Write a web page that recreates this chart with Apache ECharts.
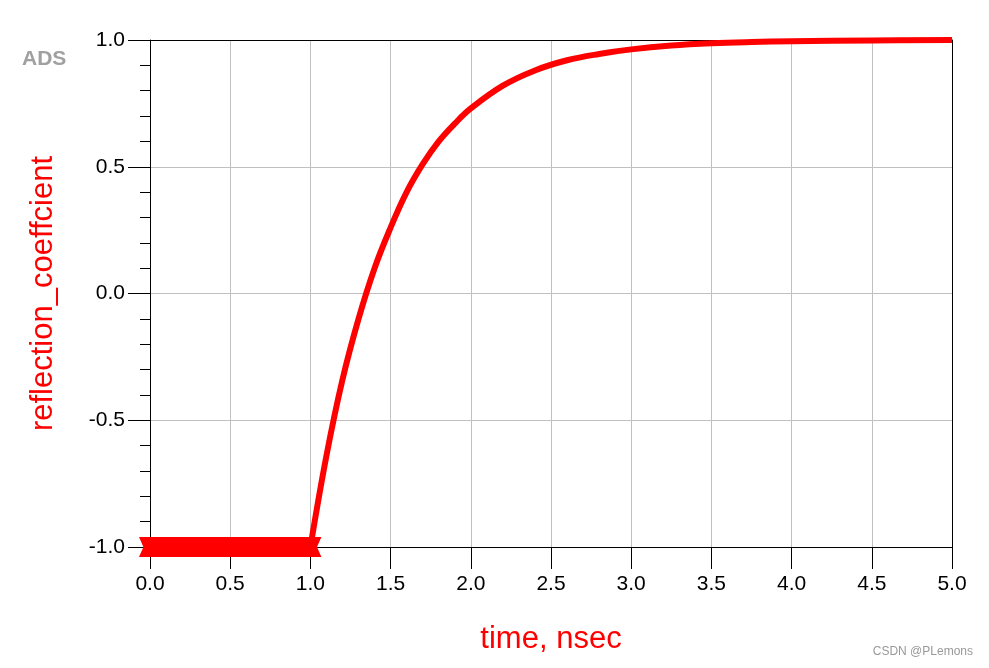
<!DOCTYPE html>
<html>
<head>
<meta charset="utf-8">
<script src="https://cdn.jsdelivr.net/npm/echarts@6/dist/echarts.min.js"></script>
<style>
  html, body { margin: 0; padding: 0; background: #fff; }
  #main { width: 989px; height: 668px; }
</style>
</head>
<body>
<div id="main"></div>
<script>
// flat part before the step (t in nsec)
const flatTimes = [0, 0.1, 0.2, 0.3, 0.4, 0.5, 0.6, 0.7, 0.8, 0.9, 1.0];
const flatValues = [-1, -1, -1, -1, -1, -1, -1, -1, -1, -1, -1];

// rising part
const riseTimes = [1.0, 1.1, 1.2, 1.3, 1.4, 1.5, 1.6, 1.7, 1.8, 1.9, 2.0,
  2.2, 2.4, 2.6, 2.8, 3.0, 3.25, 3.5, 3.75, 4.0, 4.5, 5.0];
const riseValues = [-1.0, -0.64, -0.34, -0.1, 0.1, 0.26, 0.4, 0.51, 0.6, 0.67, 0.73,
  0.82, 0.88, 0.92, 0.945, 0.963, 0.978, 0.987, 0.992, 0.995, 0.998, 1.0];

const xTicks = [0, 0.5, 1, 1.5, 2, 2.5, 3, 3.5, 4, 4.5, 5];
const yTicks = [-1, -0.5, 0, 0.5, 1];

const fontFamily = "'Liberation Sans', Arial, sans-serif";

// plain black frame lines for the top and right edges
const frameAxis = {
  type: "value",
  axisLine: { show: true, onZero: false, lineStyle: { color: "#000", width: 1 } },
  axisTick: { show: false },
  axisLabel: { show: false },
  splitLine: { show: false },
};

const option = {
  animation: false,
  grid: {
    left: 150,
    right: 37,
    top: 40,
    bottom: 121,
  },
  xAxis: [
    {
      type: "value",
      min: xTicks[0],
      max: xTicks[xTicks.length - 1],
      interval: 0.5,
      name: "time, nsec",
      nameLocation: "middle",
      nameGap: 77,
      nameTextStyle: { color: "#ff0000", fontSize: 31, fontFamily: fontFamily },
      axisLine: { show: true, onZero: false, lineStyle: { color: "#000", width: 1 } },
      axisTick: { show: true, length: 22, lineStyle: { color: "#000" } },
      axisLabel: {
        color: "#000",
        fontSize: 21,
        fontFamily: fontFamily,
        margin: 27,
        formatter: (v) => v.toFixed(1),
      },
      splitLine: { show: true, lineStyle: { color: "#c0c0c0", width: 1 } },
    },
    Object.assign({}, frameAxis, {
      position: "top",
      min: xTicks[0],
      max: xTicks[xTicks.length - 1],
    }),
  ],
  yAxis: [
    {
      type: "value",
      min: yTicks[0],
      max: yTicks[yTicks.length - 1],
      interval: 0.5,
      name: "reflection_coeffcient",
      nameLocation: "middle",
      nameGap: 91,
      nameTextStyle: { color: "#ff0000", fontSize: 31, fontFamily: fontFamily },
      axisLine: { show: true, onZero: false, lineStyle: { color: "#000", width: 1 } },
      axisTick: { show: true, length: 22, lineStyle: { color: "#000" } },
      minorTick: { show: true, splitNumber: 5, length: 10, lineStyle: { color: "#000" } },
      axisLabel: {
        color: "#000",
        fontSize: 21,
        fontFamily: fontFamily,
        margin: 25,
        formatter: (v) => v.toFixed(1),
      },
      splitLine: { show: true, lineStyle: { color: "#c0c0c0", width: 1 } },
    },
    Object.assign({}, frameAxis, {
      position: "right",
      min: yTicks[0],
      max: yTicks[yTicks.length - 1],
    }),
  ],
  graphic: [
    {
      type: "text",
      left: 22,
      top: 49,
      style: {
        text: "ADS",
        fill: "#a0a0a0",
        font: "bold 21px " + fontFamily,
        shadowColor: "rgba(0,0,0,0.45)",
        shadowBlur: 2,
        shadowOffsetX: 1,
        shadowOffsetY: 1,
      },
    },
    {
      type: "text",
      right: 16,
      top: 646,
      style: {
        text: "CSDN @PLemons",
        fill: "#999",
        font: "12px " + fontFamily,
      },
    },
  ],
  series: [
    {
      type: "line",
      data: flatTimes.map((t, i) => [t, flatValues[i]]),
      symbol: "path://M0,0 L20,0 L16,10 L20,20 L0,20 L4,10 Z",
      symbolSize: [22, 20],
      itemStyle: { color: "#ff0000" },
      lineStyle: { color: "#ff0000", width: 18 },
      z: 10,
    },
    {
      type: "line",
      data: riseTimes.map((t, i) => [t, riseValues[i]]),
      smooth: 0.4,
      showSymbol: false,
      lineStyle: { color: "#ff0000", width: 6 },
      z: 11,
    },
  ],
};

const chart = echarts.init(document.getElementById("main"));
chart.setOption(option);
</script>
</body>
</html>
